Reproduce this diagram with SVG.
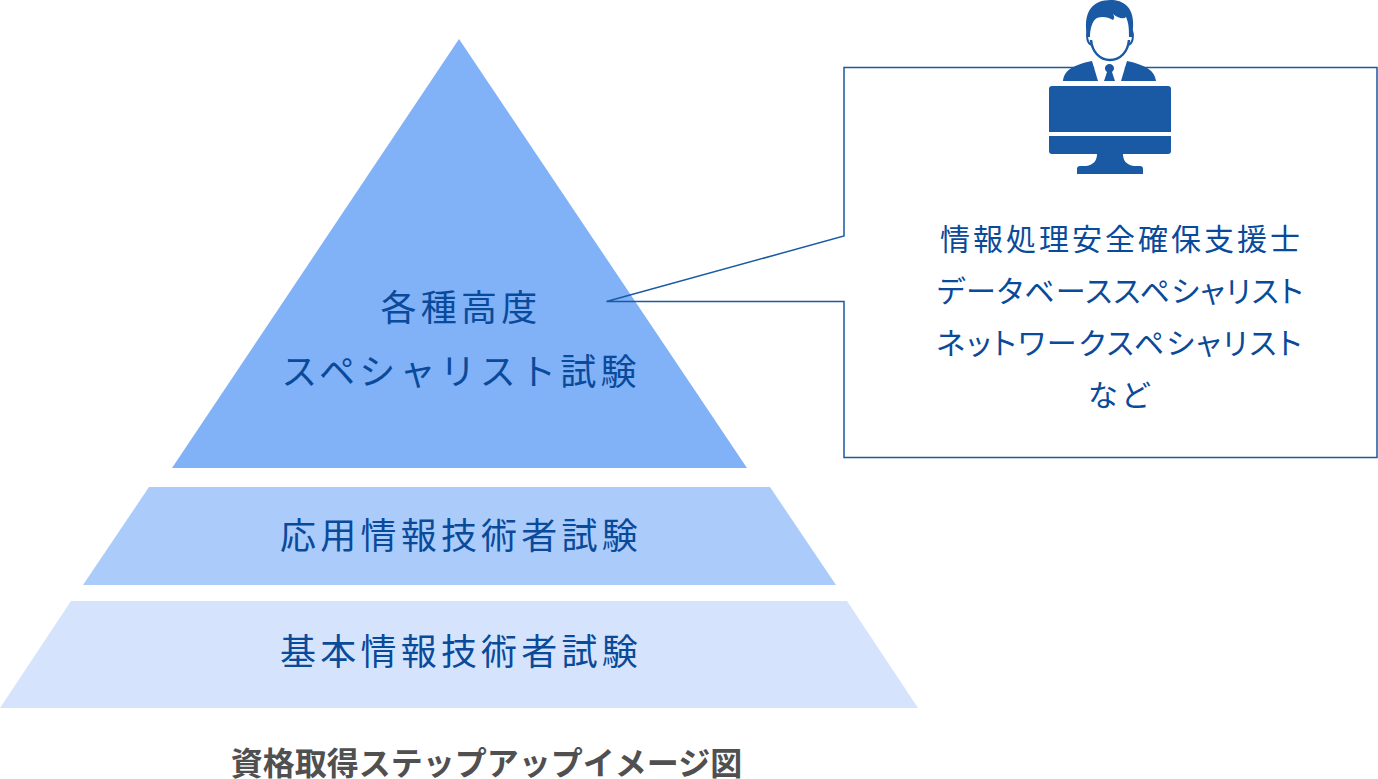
<svg xmlns="http://www.w3.org/2000/svg" width="1378" height="779" viewBox="0 0 1378 779">
<style>
text{font-family:"Noto Sans CJK JP","Noto Sans",sans-serif;text-anchor:middle}
.p{font-size:36px;fill:#0a4a9a;font-weight:400;letter-spacing:4.2px}
.k{font-feature-settings:"palt"}
.c{font-size:30px;fill:#0a4a9a;font-weight:400;letter-spacing:3px}
.i{fill:#1a59a3}
</style>
<g id="tier-top"><polygon points="459,39 747,468 172,468" fill="#81b1f6"/>
<text class="p" x="461" y="321">各種高度</text><text class="p" x="461" y="385">スペシャリスト試験</text></g>
<g id="tier-mid"><polygon points="149,487 770,487 836,585 83,585" fill="#abcbfb"/>
<text class="p" x="461" y="549">応用情報技術者試験</text></g>
<g id="tier-base"><polygon points="71,601 847,601 918,708 0,708" fill="#d5e4fc"/>
<text class="p" x="461" y="665">基本情報技術者試験</text></g>
<g id="connectors"><path d="M606.500 301.500L844 236V67.500H1377V457.500H844V301.500Z" fill="none" stroke="#1a59a3" stroke-width="1.500"/></g>
<g id="callout-text">
<text class="c" x="1121.500" y="250">情報処理安全確保支援士</text>
<text class="c k" x="1120.500" y="302" style="letter-spacing:1.2px">データベーススペシャリスト</text>
<text class="c k" x="1120" y="354" style="letter-spacing:2.1px">ネットワークスペシャリスト</text>
<text class="c" x="1121" y="406">など</text>
</g>
<g id="person-icon">
<polygon points="1092,60 1127,60 1121,81 1098,81" fill="#fff"/>
<path class="i" d="M1090 37H1087C1084 20 1087 7 1099 2C1108 -1 1120 -1 1127 6C1134 13 1134 25 1132 37H1129C1129 30 1129 24 1126 17C1124 19 1119 19 1113 14C1115 17 1114 19 1113 20C1108 17 1102 16 1097 18C1092 21 1090 29 1090 37Z"/>
<path d="M1090 29C1086 31 1086 42 1091 45M1130 29C1134 31 1134 42 1129 45" fill="none" stroke="#1a59a3" stroke-width="2"/>
<path d="M1091 40C1092 52 1100 60 1110 60C1120 60 1128 52 1129 40" fill="none" stroke="#1a59a3" stroke-width="2.500"/>
<path class="i" d="M1063 81C1064 71 1072 65 1092 61L1098 81ZM1121 81L1127 61C1146 65 1155 71 1156 81ZM1104 81L1107 72C1104 70 1104 65 1109 64H1110C1115 65 1115 70 1112 72L1115 81Z"/>
<path class="i" d="M1052 86H1168Q1171 86 1171 89V132H1049V89Q1049 86 1052 86ZM1049 136H1171V151Q1171 154 1168 154H1123C1123 160 1126 165 1134 166H1140Q1143 166 1143 169V174H1077V169Q1077 166 1080 166H1086C1094 165 1097 160 1097 154H1052Q1049 154 1049 151Z"/>
</g>
<text x="486.500" y="775" font-size="32" font-weight="700" fill="#505050" id="caption">資格取得ステップアップイメージ図</text>
</svg>
